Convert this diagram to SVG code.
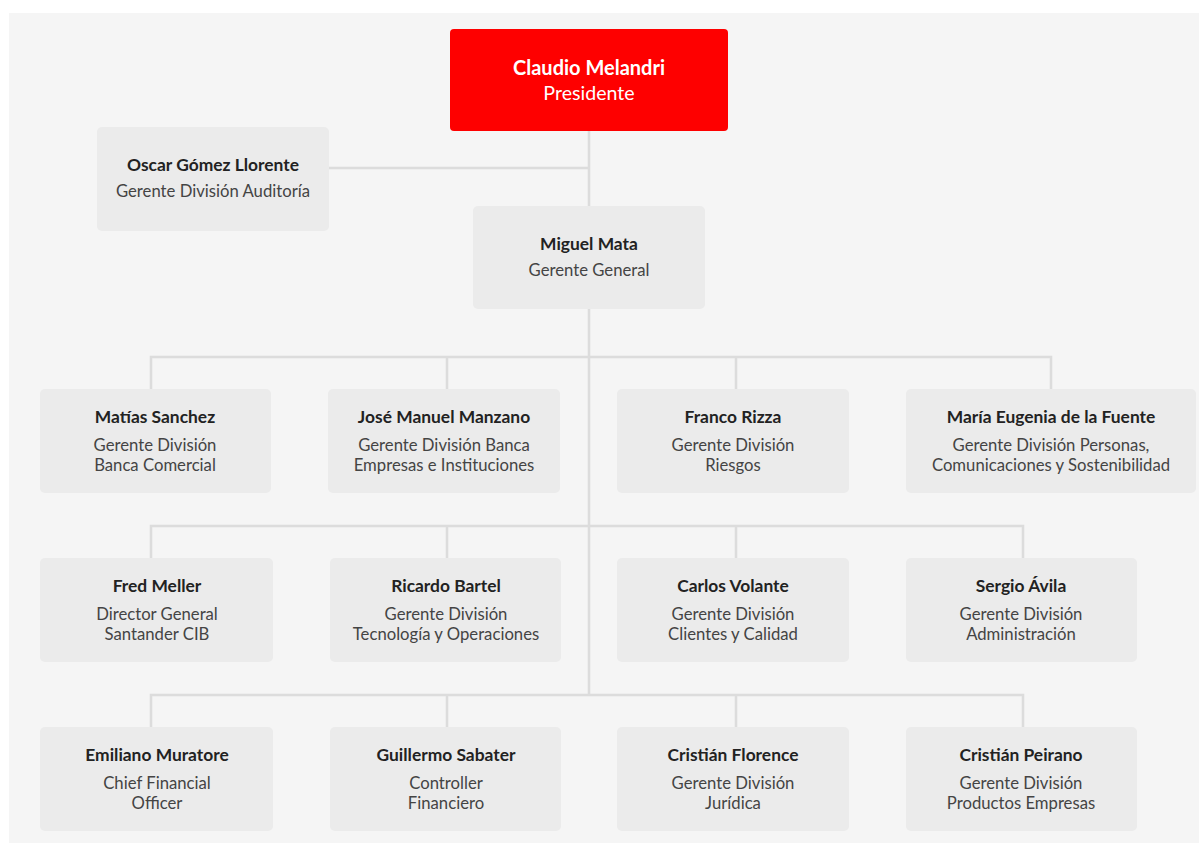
<svg xmlns="http://www.w3.org/2000/svg" width="1199" height="843" viewBox="0 0 1199 843">
<style>
.bg{fill:#f5f5f5}
.box{fill:#ebebeb}
.red{fill:#fe0000}
.ln{stroke:#dcdcdc;stroke-width:2.5;fill:none}
text{font-family:Lato,"Liberation Sans",sans-serif;font-size:16.7px;text-anchor:middle}
.n{font-weight:bold;fill:#222;font-size:17.4px}
.s{fill:#444}
.wb{fill:#ffffff;font-weight:bold;font-size:20px}
.ws{fill:#ffffff;font-size:19.6px}
</style>
<rect x="0" y="0" width="1199" height="843" fill="#ffffff"/>
<rect class="bg" x="9" y="13" width="1190" height="830"/>
<g id="connectors">
<path class="ln" d="M589 131 V695"/>
<path class="ln" d="M329 168 H589"/>
<path class="ln" d="M151 389 V357 H1051 V389 M447 357 V389 M736 357 V389"/>
<path class="ln" d="M151 558 V526 H1023 V558 M447 526 V558 M736 526 V558"/>
<path class="ln" d="M151 727 V695 H1023 V727 M447 695 V727 M736 695 V727"/>
</g>
<g id="n-presidente"><rect class="red" x="450" y="29" width="278" height="102" rx="4"/><text class="wb" x="589" y="75">Claudio Melandri</text><text class="ws" x="589" y="100">Presidente</text></g>
<g id="n-auditoria"><rect class="box" x="97" y="127" width="232" height="104" rx="5"/><text class="n" x="213" y="171">Oscar Gómez Llorente</text><text class="s" x="213" y="197">Gerente División Auditoría</text></g>
<g id="n-general"><rect class="box" x="473" y="206" width="232" height="103" rx="5"/><text class="n" x="589" y="250">Miguel Mata</text><text class="s" x="589" y="276">Gerente General</text></g>
<g id="n-sanchez"><rect class="box" x="40" y="389" width="231" height="104" rx="5"/><text class="n" x="155" y="423">Matías Sanchez</text><text class="s" x="155" y="451">Gerente División</text><text class="s" x="155" y="471">Banca Comercial</text></g>
<g id="n-manzano"><rect class="box" x="328" y="389" width="232" height="104" rx="5"/><text class="n" x="444" y="423">José Manuel Manzano</text><text class="s" x="444" y="451">Gerente División Banca</text><text class="s" x="444" y="471">Empresas e Instituciones</text></g>
<g id="n-rizza"><rect class="box" x="617" y="389" width="232" height="104" rx="5"/><text class="n" x="733" y="423">Franco Rizza</text><text class="s" x="733" y="451">Gerente División</text><text class="s" x="733" y="471">Riesgos</text></g>
<g id="n-fuente"><rect class="box" x="906" y="389" width="290" height="104" rx="5"/><text class="n" x="1051" y="423">María Eugenia de la Fuente</text><text class="s" x="1051" y="451">Gerente División Personas,</text><text class="s" x="1051" y="471">Comunicaciones y Sostenibilidad</text></g>
<g id="n-meller"><rect class="box" x="40" y="558" width="233" height="104" rx="5"/><text class="n" x="157" y="592">Fred Meller</text><text class="s" x="157" y="620">Director General</text><text class="s" x="157" y="640">Santander CIB</text></g>
<g id="n-bartel"><rect class="box" x="330" y="558" width="231" height="104" rx="5"/><text class="n" x="446" y="592">Ricardo Bartel</text><text class="s" x="446" y="620">Gerente División</text><text class="s" x="446" y="640">Tecnología y Operaciones</text></g>
<g id="n-volante"><rect class="box" x="617" y="558" width="232" height="104" rx="5"/><text class="n" x="733" y="592">Carlos Volante</text><text class="s" x="733" y="620">Gerente División</text><text class="s" x="733" y="640">Clientes y Calidad</text></g>
<g id="n-avila"><rect class="box" x="906" y="558" width="231" height="104" rx="5"/><text class="n" x="1021" y="592">Sergio Ávila</text><text class="s" x="1021" y="620">Gerente División</text><text class="s" x="1021" y="640">Administración</text></g>
<g id="n-muratore"><rect class="box" x="40" y="727" width="233" height="104" rx="5"/><text class="n" x="157" y="761">Emiliano Muratore</text><text class="s" x="157" y="789">Chief Financial</text><text class="s" x="157" y="809">Officer</text></g>
<g id="n-sabater"><rect class="box" x="330" y="727" width="231" height="104" rx="5"/><text class="n" x="446" y="761">Guillermo Sabater</text><text class="s" x="446" y="789">Controller</text><text class="s" x="446" y="809">Financiero</text></g>
<g id="n-florence"><rect class="box" x="617" y="727" width="232" height="104" rx="5"/><text class="n" x="733" y="761">Cristián Florence</text><text class="s" x="733" y="789">Gerente División</text><text class="s" x="733" y="809">Jurídica</text></g>
<g id="n-peirano"><rect class="box" x="906" y="727" width="231" height="104" rx="5"/><text class="n" x="1021" y="761">Cristián Peirano</text><text class="s" x="1021" y="789">Gerente División</text><text class="s" x="1021" y="809">Productos Empresas</text></g>
</svg>
